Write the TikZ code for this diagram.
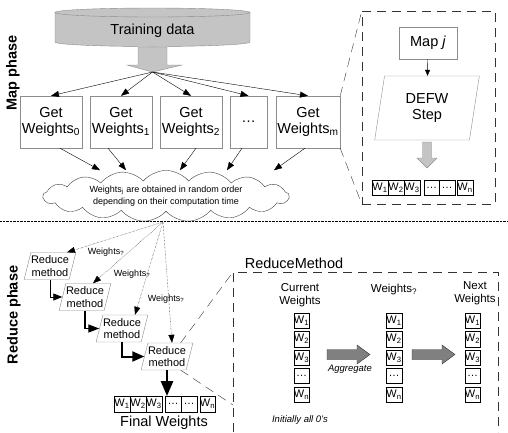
\documentclass[tikz,border=0pt]{standalone}
\usepackage{fontspec}
\setmainfont{Liberation Sans}
\usetikzlibrary{shapes.geometric,shapes.symbols,arrows.meta}
\definecolor{linegray}{HTML}{8C8C8C}
\definecolor{fillgray}{HTML}{C4C4C4}
\definecolor{darkfill}{HTML}{808080}
\begin{document}
\begin{tikzpicture}[x=1pt,y=1pt,
  big/.style={font=\fontsize{14.5}{16.5}\selectfont},
  mid/.style={font=\fontsize{11.5}{13}\selectfont},
  small/.style={font=\fontsize{9}{11.5}\selectfont},
  getbox/.style={draw=linegray, big, align=center, minimum height=52, inner sep=0},
  redbox/.style={trapezium, trapezium left angle=72, trapezium right angle=108,
    trapezium stretches=true, draw=linegray, align=center, inner sep=0,
    font=\fontsize{11}{12.5}\selectfont, minimum width=52, minimum height=27},
  wbox/.style={draw, minimum width=15.5, minimum height=15.5, inner sep=0,
    font=\fontsize{11}{11}\selectfont},
  tip/.style={-{Triangle[length=8pt,width=6pt]}},
  longdash/.style={dash pattern=on 9pt off 6pt, draw=black!80}]

\path[use as bounding box] (0,0) rectangle (508,-432);

\filldraw[fill=fillgray, draw=linegray] (55,-12.5) -- (55,-42)
  arc[start angle=180, end angle=360, x radius=97.5, y radius=4.5] -- (250,-12.5) -- cycle;
\filldraw[fill=fillgray, draw=linegray] (152.5,-12.5) ellipse [x radius=97.5, y radius=4.5];
\node[big] (train) at (152.5,-31) {Training data};

\filldraw[fill=fillgray, draw=linegray] (138,-47) -- ++(29,0) -- ++(0,-18) -- ++(15,0)
  -- ++(-29.5,-7) -- ++(-25.5,7) -- ++(11,0) -- cycle;
\coordinate (fan) at (152.5,-72);

\node[rotate=90, font=\bfseries\fontsize{14.5}{16}\selectfont] (mapl) at (13,-73) {Map phase};
\node[rotate=90, font=\bfseries\fontsize{14.5}{16}\selectfont] (redl) at (14,-315) {Reduce phase};

\node[getbox, minimum width=62] (g0) at (51,-122) {Get\\Weights\textsubscript{0}};
\node[getbox, minimum width=62] (g1) at (121,-122) {Get\\Weights\textsubscript{1}};
\node[getbox, minimum width=62] (g2) at (191,-122) {Get\\Weights\textsubscript{2}};
\node[getbox, minimum width=37] (g3) at (248.5,-122) {\dots};
\node[getbox, minimum width=64] (gm) at (308,-122) {Get\\Weights\textsubscript{m}};

\foreach \g in {g0,g1,g2,g3,gm}{
\draw[tip] (fan) -- (\g.north);
}

\node[cloud, draw=black!75, cloud puffs=17, cloud puff arc=100, aspect=6.5,
  minimum width=246, minimum height=38, inner sep=0, small, align=center]
  (cloud) at (166,-196) {Weights\textsubscript{j} are obtained in random order\\depending on their computation time};

\foreach \g/\a/\b in {g0/9/-66, g1/-13/-40, g2/5/14, g3/-6.5/61, gm/-3/108}{
\draw[tip] ([xshift=\a]\g.south) -- ([xshift=\b]cloud.north);
}

\draw[densely dotted] (0,-221) -- (508,-221);

\node[draw, longdash, minimum width=133, minimum height=193] (mapbox) at (428.5,-107.5) {};
\draw[longdash] (gm.north east) -- (mapbox.north west);
\draw[longdash] (gm.south east) -- (mapbox.south west);

\node[draw=linegray, big, minimum width=58, minimum height=32] (mapj) at (428,-43) {Map \textit{j}};
\node[trapezium, trapezium left angle=81, trapezium right angle=99, trapezium stretches=true,
  draw=linegray, big, align=center, minimum width=105, minimum height=64]
  (defw) at (427,-108) {DEFW\\Step};
\draw[-{Triangle[length=6pt,width=5pt]}] (mapj) -- (defw);
\filldraw[fill=fillgray, draw=linegray] (422.5,-142) -- ++(9,0) -- ++(0,-16) -- ++(5.5,0)
  -- ++(-10,-10) -- ++(-10,10) -- ++(5.5,0) -- cycle;

\foreach \dx/\t [count=\k] in {0/W\textsubscript{1}, 16/W\textsubscript{2}, 32/W\textsubscript{3},
  51.5/\dots, 67/\dots, 85/W\textsubscript{n}}{
\node[wbox] (mw\k) at (380+\dx,-187.5) {\t};
}

\coordinate (src) at (163,-222);
\node[redbox] (r1) at (50,-266) {Reduce\\method};
\node[redbox] (r2) at (85,-297) {Reduce\\method};
\node[redbox] (r3) at (122,-328.5) {Reduce\\method};
\node[redbox] (r4) at (167,-356.5) {Reduce\\method};

\foreach \r/\dx in {r1/17,r2/8,r3/13,r4/5}{
\draw[densely dotted, tip] (src) -- ([xshift=\dx]\r.north);
}
\node[small] (wl1) at (106,-252) {Weights\textsubscript{?}};
\node[small] (wl2) at (132,-274) {Weights\textsubscript{?}};
\node[small] (wl3) at (166,-299) {Weights\textsubscript{?}};

\draw[line width=0.8pt, -{Triangle[length=9pt,width=7pt]}] (r1.south) |- (r2.west);
\draw[line width=1.3pt, -{Triangle[length=11pt,width=8pt]}] (r2.south) |- (r3.west);
\draw[line width=2pt, -{Triangle[length=12pt,width=10pt]}] (r3.south) |- (r4.west);

\foreach \dx/\t [count=\k] in {0/W\textsubscript{1}, 16/W\textsubscript{2}, 32/W\textsubscript{3},
  51/\dots, 67/\dots, 85.5/W\textsubscript{n}}{
\node[wbox] (fw\k) at (122+\dx,-404) {\t};
}
\draw[line width=2.5pt, -{Triangle[length=15pt,width=12pt]}] (r4.south) -- (r4.south |- fw1.north);
\node[big] (fwl) at (164,-423) {Final Weights};

\coordinate (rmtl) at (233,-272);
\coordinate (rmlow) at (233,-405);
\draw[longdash] (233,-432) -- (rmtl) -- (498,-272) -- (498,-432);
\node[big] (rmt) at (294,-263) {ReduceMethod};
\draw[longdash] (r4.north east) -- (rmtl);
\draw[longdash] (r4.south east) -- (rmlow);

\node[mid, align=center] (cur) at (300,-295) {Current\\Weights};
\node[mid] (wq) at (394,-290) {Weights\textsubscript{?}};
\node[mid, align=center] (nxt) at (475,-293) {Next\\Weights};

\foreach \x [count=\c] in {301.5,394,472.5}{
\foreach \dy/\t [count=\k] in {0/W\textsubscript{1}, 18.5/W\textsubscript{2}, 37/W\textsubscript{3},
  55/\dots, 74/W\textsubscript{n}}{
\node[wbox] (col\c-\k) at (\x,-320.5-\dy) {\t};
}}

\foreach \x in {327,412}{
\filldraw[fill=darkfill, draw=black!80] (\x,-349.5) -- ++(30,0) -- ++(0,4.5) -- ++(13,-9.5)
  -- ++(-13,-9.5) -- ++(0,4.5) -- ++(-30,0) -- cycle;
}
\node[font=\fontsize{9.5}{11}\selectfont\itshape] (agg) at (350,-369) {Aggregate};
\node[font=\fontsize{9.5}{11}\selectfont\itshape] (init) at (300,-420) {Initially all 0's};
\end{tikzpicture}
\end{document}
